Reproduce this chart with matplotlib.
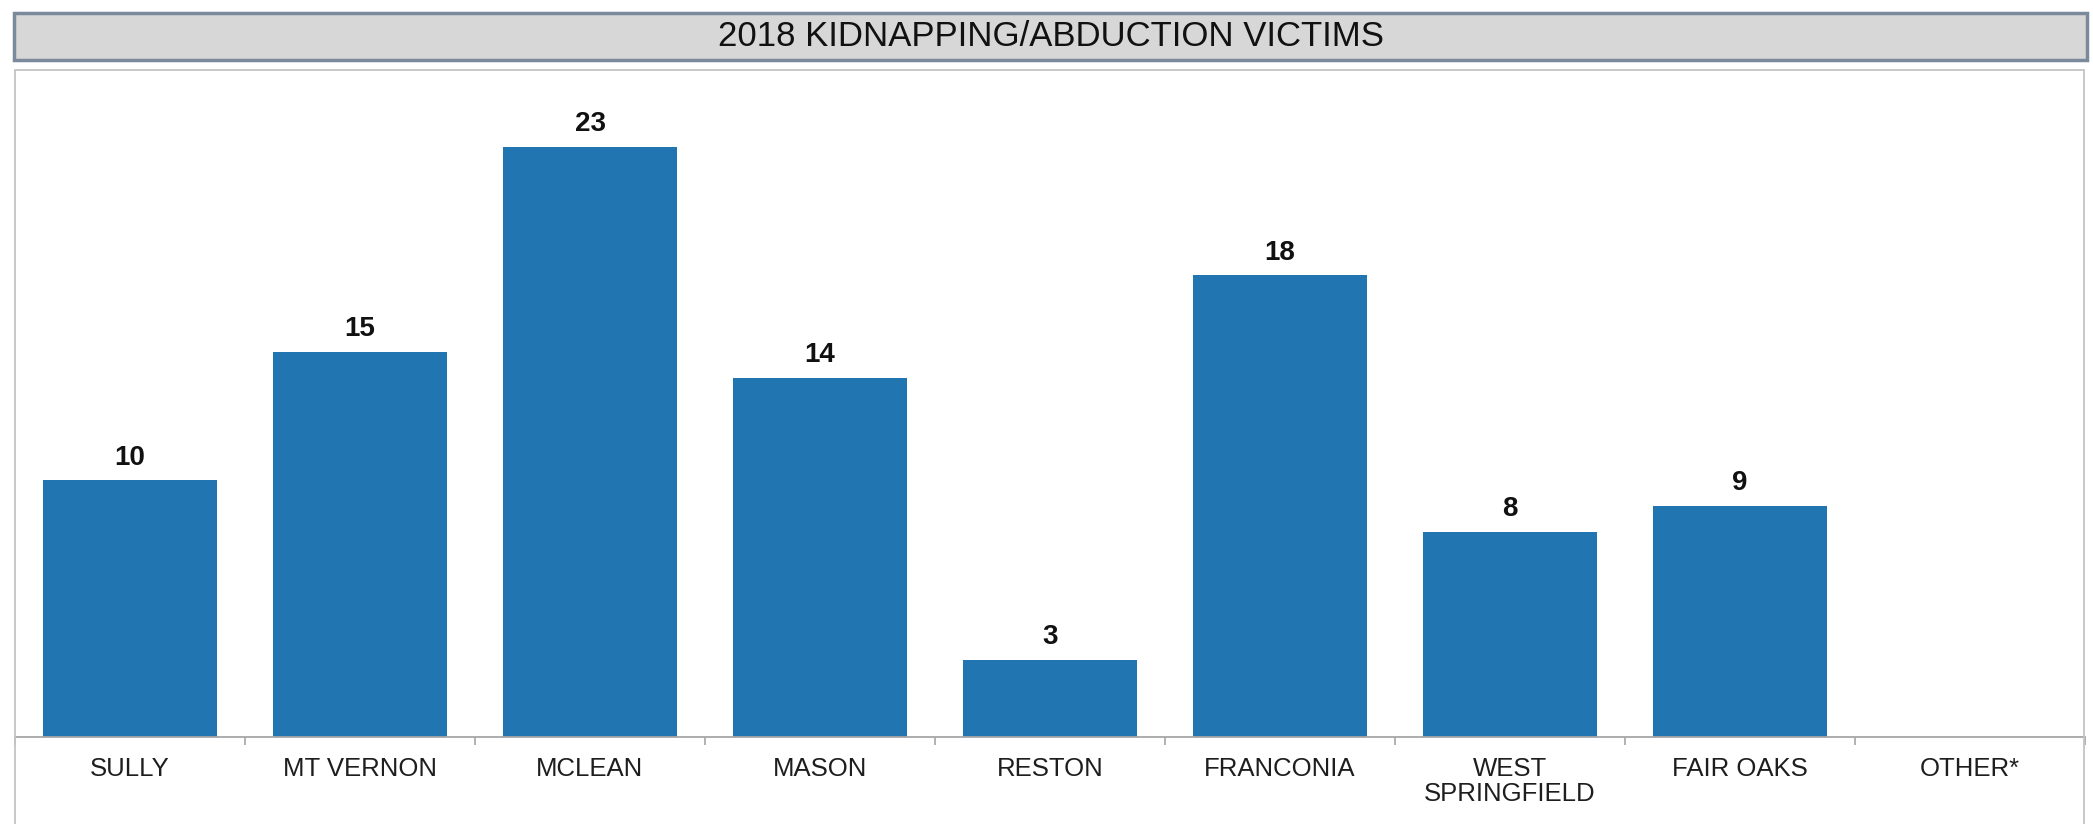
import numpy as np
import matplotlib
matplotlib.use("Agg")
import matplotlib.pyplot as plt
from matplotlib.patches import Rectangle

plt.rcParams['font.family'] = ['Liberation Sans', 'DejaVu Sans']

# Данные
districts = ["SULLY", "MT VERNON", "MCLEAN", "MASON", "RESTON",
             "FRANCONIA", "WEST\nSPRINGFIELD", "FAIR OAKS", "OTHER*"]
victims = [10, 15, 23, 14, 3, 18, 8, 9, 0]
title = "2018 KIDNAPPING/ABDUCTION VICTIMS"

W, H = 2093, 824
fig = plt.figure(figsize=(W / 100, H / 100), dpi=100)


def fx(px):
    return px / W


def fy(py):
    # пиксели сверху -> доля снизу
    return 1 - py / H


# Плашка заголовка
fig.add_artist(Rectangle((fx(14), fy(60)), fx(2087 - 14), (60 - 13) / H,
                         transform=fig.transFigure, facecolor='#d7d7d7',
                         edgecolor='#7a8a9c', lw=2.5))
fig.text(fx(1051), fy(37), title, ha='center', va='center',
         fontsize=25, color='#111111')

# Рамка области графика
fig.add_artist(Rectangle((fx(15), fy(830)), fx(2084 - 15), (830 - 70) / H,
                         transform=fig.transFigure, facecolor='none',
                         edgecolor='#c4c4c4', lw=1.3))

ax = fig.add_axes([fx(15), fy(737), fx(2070), (737 - 70) / H])
x = np.arange(len(districts))
bars = ax.bar(x, victims, width=0.755, color='#2176b2')

for xi, v in zip(x, victims):
    if v > 0:
        ax.annotate(f"{v}", (xi, v), xytext=(0, 7), textcoords='offset points',
                    ha='center', va='bottom', fontsize=20, fontweight='bold',
                    color='#111111')

ax.set_xlim(-0.5, len(districts) - 0.5)
ax.set_ylim(0, 26)
ax.set_yticks([])
for s in ('top', 'right', 'left'):
    ax.spines[s].set_visible(False)
ax.spines['bottom'].set_color('#a6a6a6')
ax.spines['bottom'].set_linewidth(1.3)

ax.set_xticks(x)
ax.set_xticklabels(districts, fontsize=18.5, color='#1e1e1e', linespacing=1.05)
ax.tick_params(axis='x', which='major', length=0, pad=14.5)
ax.set_xticks(np.arange(-0.5, len(districts)), minor=True)
ax.tick_params(axis='x', which='minor', length=6, color='#a6a6a6', width=1.2)

fig.savefig("out.png", dpi=100)
